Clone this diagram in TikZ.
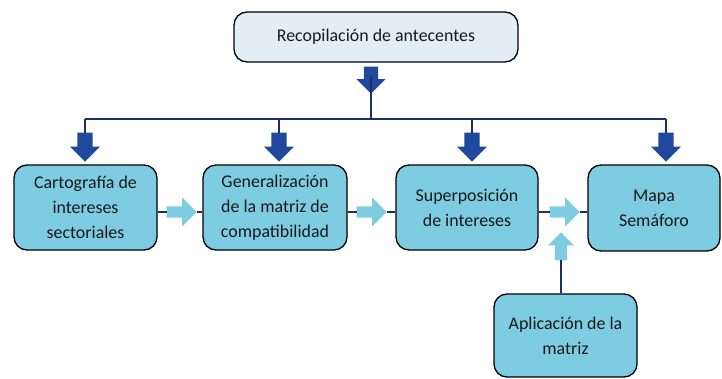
\documentclass[tikz,border=0pt]{standalone}
\usepackage{fontspec}
\setmainfont{Carlito}
\usetikzlibrary{shapes.arrows}
\definecolor{celeste}{HTML}{7ECCE2}
\definecolor{grisazul}{HTML}{E3EDF5}
\definecolor{azul}{HTML}{1F4A9C}
\definecolor{azullinea}{HTML}{1A2F66}
\tikzset{
  caja/.style={draw=black, line width=1.3pt, rounded corners=13pt, fill=celeste,
    align=center, text=black!90, font=\fontsize{17.9}{25}\selectfont, inner sep=0pt},
  flechaosc/.style={single arrow, fill=azul, inner xsep=0pt, inner ysep=7.5pt,
    single arrow head extend=7.5pt, minimum height=29pt},
  flechacla/.style={single arrow, fill=celeste, inner xsep=0pt, inner ysep=5.5pt,
    single arrow head extend=9pt, minimum height=30pt},
  linea/.style={draw=azullinea, line width=1.1pt}
}
\begin{document}
\begin{tikzpicture}[x=1pt,y=-1pt]
\useasboundingbox (0,0) rectangle (722,378);

% cajas
\node[caja, fill=grisazul, minimum width=284pt, minimum height=50pt] (antec) at (376,37) {Recopilación de antecentes};
\node[caja, minimum width=143pt, minimum height=85pt] (carto) at (85.5,207.5) {Cartografía de\\intereses\\sectoriales};
\node[caja, minimum width=144pt, minimum height=85pt] (gene) at (275,207.5) {Generalización\\de la matriz de\\compatibilidad};
\node[caja, minimum width=142pt, minimum height=85pt] (super) at (467,207.5) {Superposición\\de intereses};
\node[caja, minimum width=132pt, minimum height=86pt] (mapa) at (654,208) {Mapa\\Semáforo};
\node[caja, minimum width=143pt, minimum height=83pt] (aplic) at (565.5,335.5) {Aplicación de la\\matriz};

% flechas oscuras
\node[flechaosc, rotate=270, anchor=tip, minimum height=27pt, inner ysep=7pt] (fa0) at (371,94) {};
\node[flechaosc, rotate=270, anchor=tip] (fb1) at (85,162) {};
\node[flechaosc, rotate=270, anchor=tip] (fb2) at (279,162) {};
\node[flechaosc, rotate=270, anchor=tip] (fb3) at (472,162) {};
\node[flechaosc, rotate=270, anchor=tip] (fb4) at (666,162) {};
\coordinate (junta) at (371,119);
\draw[linea] (fa0.center) -- (junta);
\draw[linea] (fb1.tail |- junta) -- (fb4.tail |- junta);
\foreach \f in {fb1,fb2,fb3,fb4}
  \draw[linea] (\f.tail |- junta) -- (\f.tail);

% flechas claras
\node[flechacla, anchor=tip] (fc1) at (197,212) {};
\node[flechacla, anchor=tip] (fc2) at (387,212) {};
\node[flechacla, anchor=tip] (fc3) at (580,212) {};
\node[flechacla, rotate=90, anchor=tip, minimum height=28pt, inner ysep=6pt,
  single arrow head extend=7pt] (fv) at (561,232) {};
\draw[linea] (carto.east |- fc1) -- (fc1.tail);
\draw[linea] (fc1.tip) -- (gene.west |- fc1);
\draw[linea] (gene.east |- fc2) -- (fc2.tail);
\draw[linea] (fc2.tip) -- (super.west |- fc2);
\draw[linea] (super.east |- fc3) -- (fc3.tail);
\draw[linea] (fc3.tip) -- (mapa.west |- fc3);
\draw[linea] (aplic.north -| fv.tail) -- (fv.tail);
\end{tikzpicture}
\end{document}
